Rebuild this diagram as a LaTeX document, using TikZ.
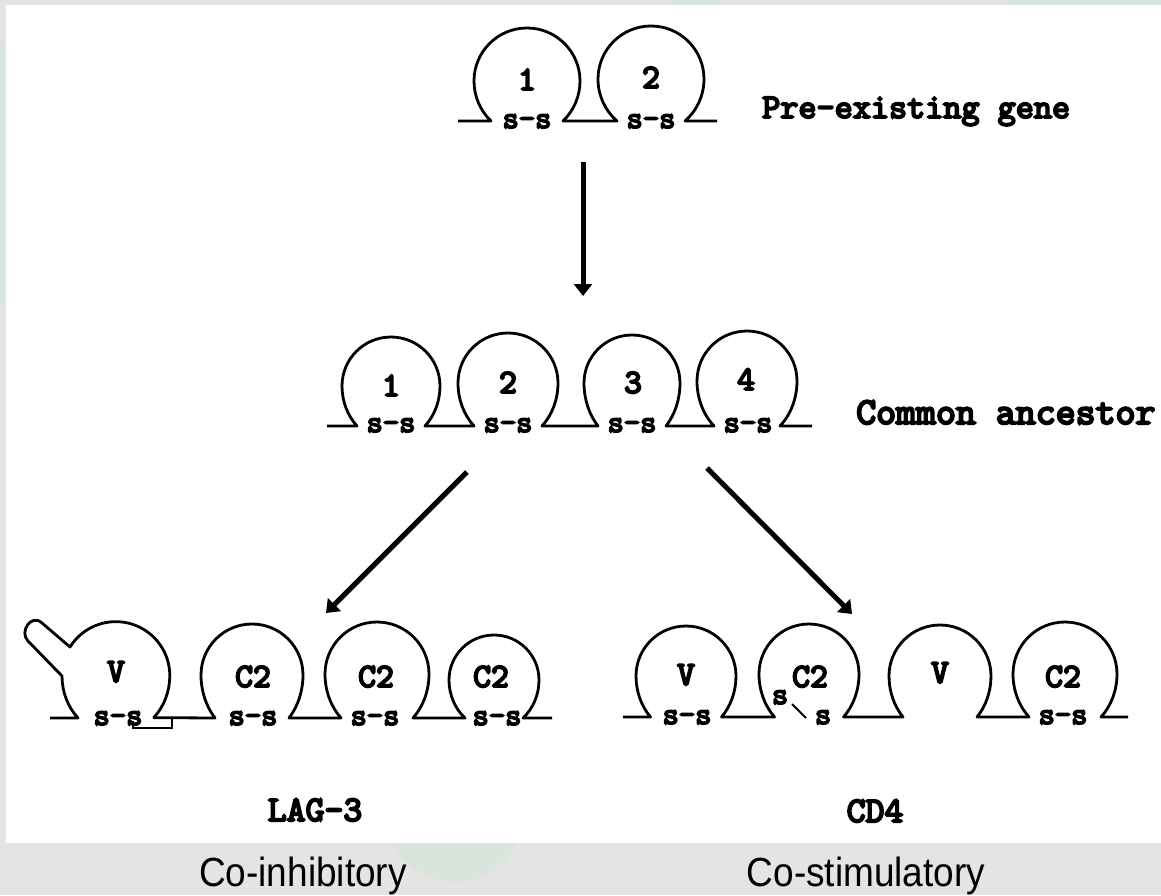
\documentclass[tikz,border=0pt]{standalone}
\usepackage{fontspec}
\usepackage{graphicx}
\usetikzlibrary{arrows.meta}
\newfontfamily\tw{lmmono10-regular}[Extension=.otf,FakeBold=5.5]
\setsansfont{Liberation Sans}
\definecolor{bggray}{HTML}{E4E4E4}
\definecolor{wmgreen}{HTML}{D9E5DC}
\newcommand\rowy{0}
% domain: cx, cy, r, half-width of the feet on the baseline \rowy
\newcommand\dom[4]{-- ({#1-#4},\rowy) arc[start angle={180-acos(#4/#3)}, end angle=180, x radius=#3, y radius={(\rowy-#2)/sin(acos(#4/#3))}] arc[start angle=180, end angle=360, radius=#3] arc[start angle=0, end angle={acos(#4/#3)}, x radius=#3, y radius={(\rowy-#2)/sin(acos(#4/#3))}]}
\begin{document}
\begin{tikzpicture}[x=1pt,y=-1pt,
  domline/.style={line width=2.8pt, line join=round, line cap=butt},
  thinline/.style={line width=2pt},
  arr/.style={line width=5pt, -{Triangle[width=18pt,length=12pt]}},
  num/.style={font=\tw\fontsize{34}{34}\selectfont, inner sep=0pt, anchor=base},
  ss/.style={font=\tw\fontsize{31}{31}\selectfont, inner sep=0pt, anchor=base},
  ttl/.style={font=\tw\fontsize{36}{36}\selectfont, inner sep=0pt, anchor=base west},
  gname/.style={font=\tw\fontsize{36}{36}\selectfont, inner sep=0pt, anchor=base},
  capt/.style={font=\sffamily\fontsize{37}{37}\selectfont, inner sep=0pt, anchor=base}]
\useasboundingbox (0,0) rectangle (1161,895);
% background, watermark and white panel
\fill[bggray] (0,0) rectangle (1161,895);
\fill[wmgreen] (-200,171) circle[radius=240];
\fill[wmgreen] (695,-30) circle[radius=40];
\fill[wmgreen] (1200,150) circle[radius=240];
\fill[wmgreen] (455,813) circle[radius=69];
\fill[white] (6,5) rectangle (1161,843);

% ---- top row: pre-existing gene
\renewcommand\rowy{121}
\draw[domline] (458,\rowy) \dom{527}{81}{53}{36} \dom{651}{79}{53}{34} -- (717,\rowy);
\node[num] (p1) at (527,90) {1};
\node[num] (p2) at (651,88) {2};
\node[ss] (ps1) at (527,128) {s-s};
\node[ss] (ps2) at (651,128) {s-s};
\node[ttl, font=\tw\fontsize{34.5}{34.5}\selectfont] (pre) at (762,118) {Pre-existing gene};

% ---- middle row: common ancestor
\renewcommand\rowy{426}
\draw[domline] (327,\rowy) \dom{391}{386}{49}{34} \dom{508}{383}{50}{34} \dom{632}{383}{48}{34} \dom{747}{381}{50}{33} -- (812,\rowy);
\node[num] (c1) at (391,396) {1};
\node[num] (c2) at (508,393) {2};
\node[num] (c3) at (633,393) {3};
\node[num] (c4) at (746,390) {4};
\node[ss] (cs1) at (391,432) {s-s};
\node[ss] (cs2) at (508,432) {s-s};
\node[ss] (cs3) at (632,432) {s-s};
\node[ss] (cs4) at (748,432) {s-s};
\node[ttl, font=\tw\fontsize{38}{38}\selectfont] (anc) at (856,424) {Common ancestor};

% ---- bottom left: LAG-3
\renewcommand\rowy{718}
\draw[domline] (50,\rowy) -- (78,\rowy)
  arc[start angle={180-acos(38/54)}, end angle=180, x radius=54, y radius={42/sin(acos(38/54))}]
  -- (28,641) .. controls (19,632) and (31,613) .. (42,623) -- (70,647)
  arc[start angle=212, end angle=360, radius=54]
  arc[start angle=0, end angle={acos(38/54)}, x radius=54, y radius={42/sin(acos(38/54))}]
  \dom{252}{675}{51}{37} \dom{377}{674}{52}{36} \dom{494}{680}{45}{29} -- (552,\rowy);
\draw[thinline] (133,721) -- (133,728) -- (172,728) -- (172,718);
\node[num] (lv) at (116,682) {V};
\node[num] (lc1) at (253,687) {C2};
\node[num] (lc2) at (376,687) {C2};
\node[num] (lc3) at (491,687) {C2};
\node[ss] (ls1) at (118,725) {s-s};
\node[ss] (ls2) at (253,725) {s-s};
\node[ss] (ls3) at (375,725) {s-s};
\node[ss] (ls4) at (497,725) {s-s};
\node[gname] (lag) at (315,821) {LAG-3};

% ---- bottom right: CD4
\renewcommand\rowy{717}
\draw[domline] (623,\rowy) \dom{686}{676}{50}{35.5} \dom{809}{674}{50}{34.5} \dom{940}{676}{51}{37} \dom{1065}{674}{52}{36} -- (1128,\rowy);
\node[num] (dv1) at (686,685) {V};
\node[num] (dc1) at (810,687) {C2};
\node[num] (dv2) at (940,683) {V};
\node[num] (dc2) at (1063,687) {C2};
\node[ss] (ds1) at (687,724) {s-s};
\node[ss] (dsa) at (780,704) {s};
\node[ss] (dsb) at (823,724) {s};
\draw[thinline] (792,704) -- (806,718);
\node[ss] (ds4) at (1063,724) {s-s};
\node[gname] (cd4) at (875,822) {CD4};

% ---- arrows
\coordinate (v1) at (583,162);
\coordinate (v2) at (583,296);
\coordinate (l1) at (467,472);
\coordinate (l2) at (326,613);
\coordinate (r1) at (707,468);
\coordinate (r2) at (852,614);
\draw[arr] (v1) -- (v2);
\draw[arr] (l1) -- (l2);
\draw[arr] (r1) -- (r2);

% ---- captions
\node[capt] (inh) at (303,886) {\scalebox{1}[1.1]{Co-inhibitory}};
\node[capt] (sti) at (866,886) {\scalebox{1}[1.1]{Co-stimulatory}};
\end{tikzpicture}
\end{document}
